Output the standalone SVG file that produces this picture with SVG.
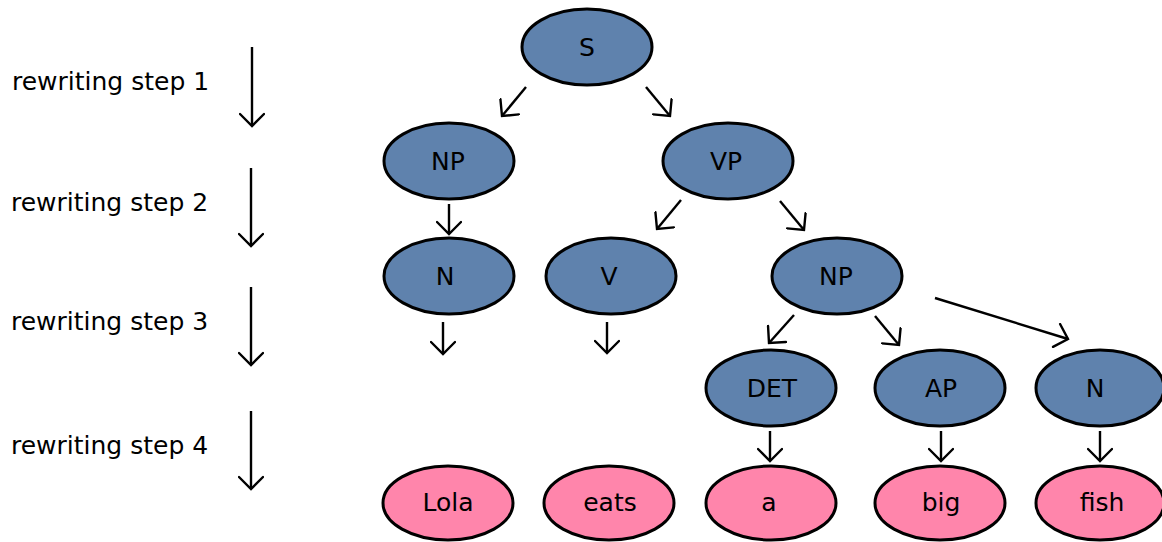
<svg xmlns="http://www.w3.org/2000/svg" width="1162" height="542" viewBox="0 0 1162 542">
  <style>
    .cat ellipse { fill: #5f82ad; stroke: #000; stroke-width: 3; }
    .word ellipse { fill: #ff85ab; stroke: #000; stroke-width: 3; }
    text { font-family: "DejaVu Sans", sans-serif; font-size: 25px; fill: #000; }
    .node text { text-anchor: middle; }
    #connectors line { stroke: #000; stroke-width: 2.4; marker-end: url(#head); }
  </style>
  <defs>
    <marker id="head" markerUnits="userSpaceOnUse" viewBox="-14 -13 16 26" markerWidth="16" markerHeight="26" refX="0" refY="0" orient="auto">
      <path d="M -12 -12 L 0 0 L -12 12" fill="none" stroke="#000" stroke-width="2.4" stroke-linecap="round"/>
    </marker>
  </defs>
  <rect width="1162" height="542" fill="#fff"/>

  <!-- step labels -->
  <g id="steps">
    <text x="12" y="90">rewriting step 1</text>
    <text x="11" y="211">rewriting step 2</text>
    <text x="11" y="330">rewriting step 3</text>
    <text x="11" y="454">rewriting step 4</text>
  </g>

  <!-- category nodes -->
  <g id="S" class="node cat"><ellipse cx="587" cy="47" rx="65" ry="38"/><text x="587" y="56">S</text></g>
  <g id="NP1" class="node cat"><ellipse cx="449" cy="161" rx="65" ry="38"/><text x="448" y="170">NP</text></g>
  <g id="VP" class="node cat"><ellipse cx="728" cy="161" rx="65" ry="38"/><text x="726" y="170">VP</text></g>
  <g id="N1" class="node cat"><ellipse cx="449" cy="276" rx="65" ry="38"/><text x="445" y="285">N</text></g>
  <g id="V" class="node cat"><ellipse cx="611" cy="276" rx="65" ry="38"/><text x="609" y="285">V</text></g>
  <g id="NP2" class="node cat"><ellipse cx="837" cy="276" rx="65" ry="38"/><text x="836" y="285">NP</text></g>
  <g id="DET" class="node cat"><ellipse cx="771" cy="388" rx="65" ry="38"/><text x="772" y="397">DET</text></g>
  <g id="AP" class="node cat"><ellipse cx="940" cy="388" rx="65" ry="38"/><text x="941" y="397">AP</text></g>
  <g id="N2" class="node cat"><ellipse cx="1100" cy="388" rx="64" ry="38"/><text x="1095" y="397">N</text></g>

  <!-- word nodes -->
  <g id="Lola" class="node word"><ellipse cx="448" cy="503" rx="65" ry="37"/><text x="448" y="511">Lola</text></g>
  <g id="eats" class="node word"><ellipse cx="609" cy="503" rx="65" ry="37"/><text x="610" y="511">eats</text></g>
  <g id="a" class="node word"><ellipse cx="771" cy="503" rx="65" ry="37"/><text x="769" y="511">a</text></g>
  <g id="big" class="node word"><ellipse cx="940" cy="503" rx="65" ry="37"/><text x="941" y="511">big</text></g>
  <g id="fish" class="node word"><ellipse cx="1100" cy="503" rx="64" ry="37"/><text x="1102" y="511">fish</text></g>

  <!-- rewriting arrows -->
  <g id="connectors">
    <line x1="252" y1="47" x2="252" y2="126"/>
    <line x1="251" y1="168" x2="251" y2="246"/>
    <line x1="251" y1="287" x2="251" y2="365"/>
    <line x1="251" y1="411" x2="251" y2="489"/>

    <line x1="526" y1="87" x2="502" y2="116"/>
    <line x1="646" y1="87" x2="670" y2="116"/>
    <line x1="449" y1="204" x2="449" y2="234"/>
    <line x1="681" y1="200" x2="657" y2="229"/>
    <line x1="780" y1="201" x2="804" y2="230"/>
    <line x1="443" y1="322" x2="443" y2="354"/>
    <line x1="607" y1="322" x2="607" y2="353"/>
    <line x1="794" y1="315" x2="769" y2="343"/>
    <line x1="875" y1="316" x2="899" y2="345"/>
    <line x1="935" y1="298" x2="1068" y2="339"/>
    <line x1="770" y1="431" x2="770" y2="461"/>
    <line x1="941" y1="431" x2="941" y2="461"/>
    <line x1="1100" y1="431" x2="1100" y2="461"/>
  </g>
</svg>
